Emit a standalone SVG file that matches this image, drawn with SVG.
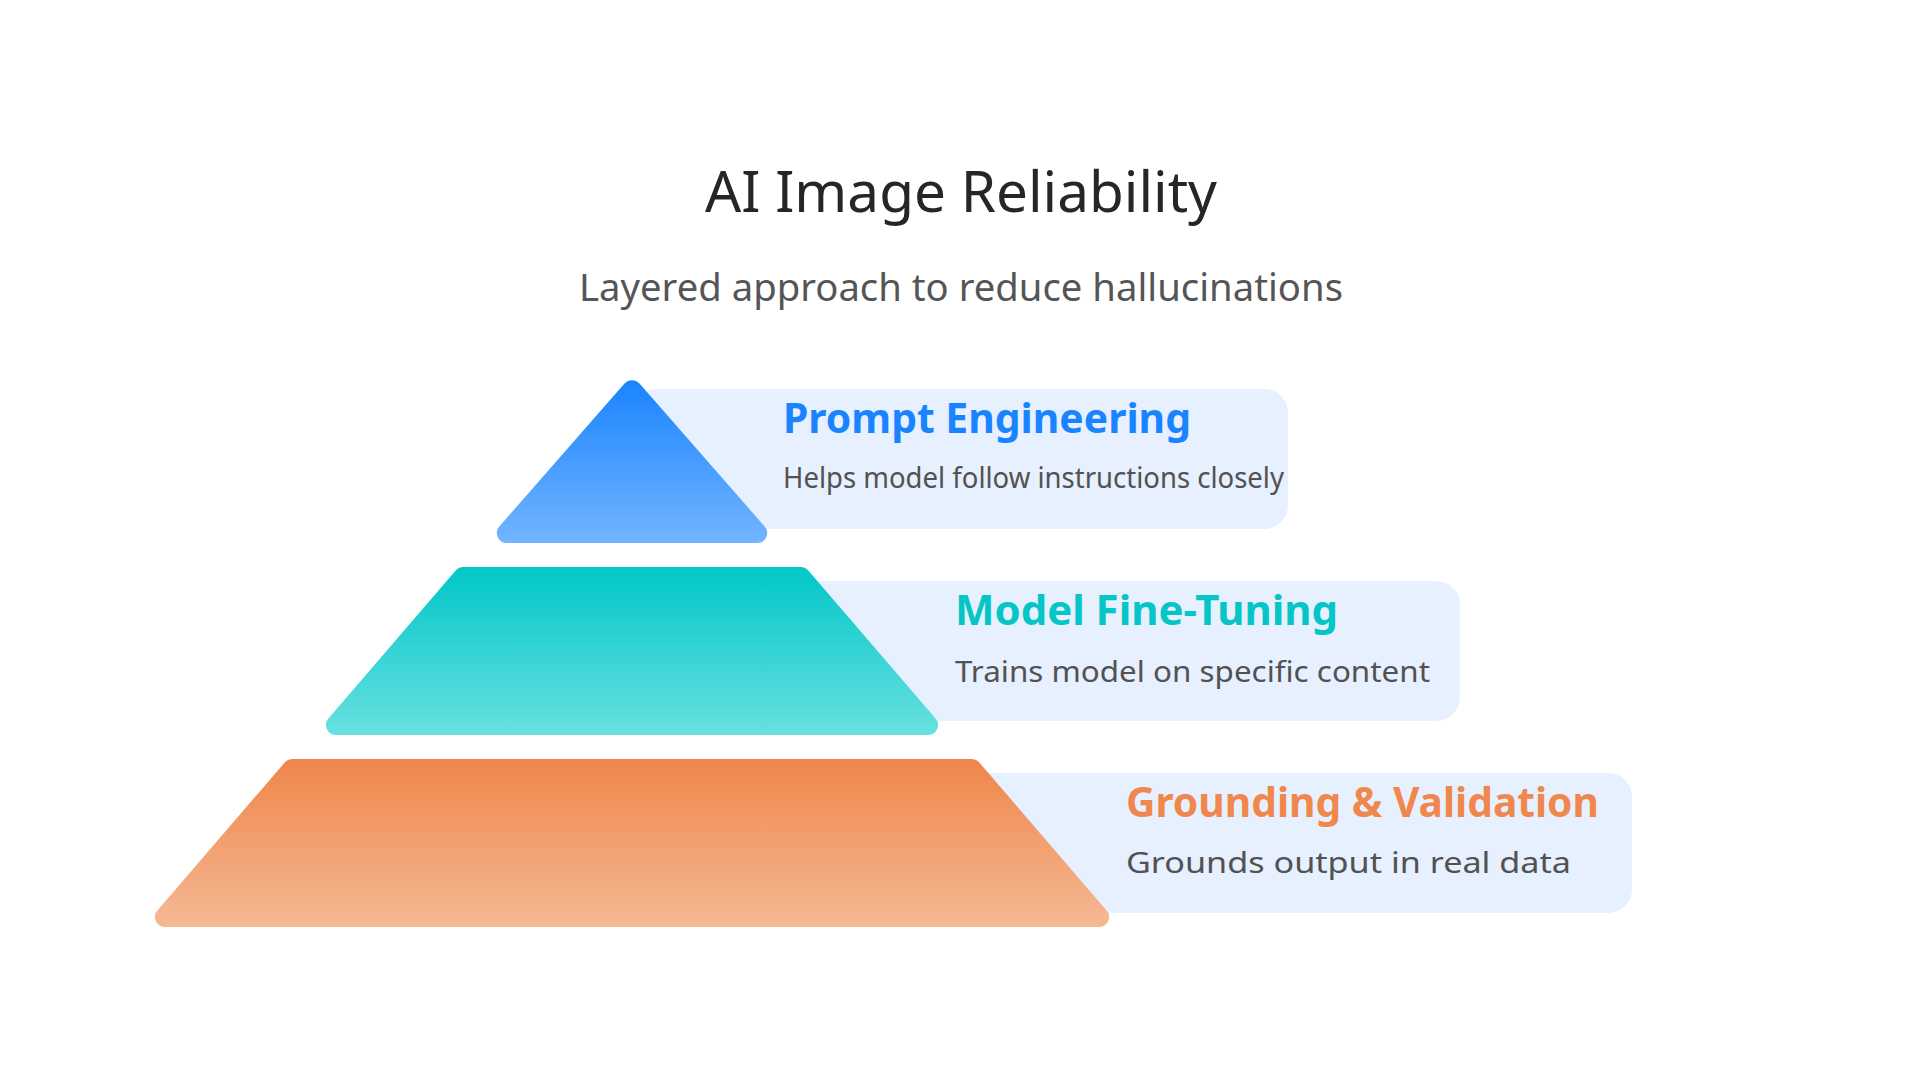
<svg xmlns="http://www.w3.org/2000/svg" width="1920" height="1080" viewBox="0 0 1920 1080">
  <defs>
    <linearGradient id="gBlue" x1="0" y1="0" x2="0" y2="1">
      <stop offset="0" stop-color="#1a84ff"/>
      <stop offset="1" stop-color="#72b4ff"/>
    </linearGradient>
    <linearGradient id="gTeal" x1="0" y1="0" x2="0" y2="1">
      <stop offset="0" stop-color="#02c7c8"/>
      <stop offset="1" stop-color="#68e0e0"/>
    </linearGradient>
    <linearGradient id="gOrange" x1="0" y1="0" x2="0" y2="1">
      <stop offset="0" stop-color="#ee864b"/>
      <stop offset="1" stop-color="#f6b994"/>
    </linearGradient>
    <style>
      .box { fill: #e6f0fe; }
      .head { font-family: "Noto Sans", "Open Sans", sans-serif; font-weight: 700; font-size: 42px; }
      .desc { font-family: "Noto Sans", "Open Sans", sans-serif; font-size: 28.5px; fill: #525252; }
      .title { font-family: "Noto Sans", "Open Sans", sans-serif; font-size: 56px; fill: #262626; }
      .subtitle { font-family: "Noto Sans", "Open Sans", sans-serif; font-size: 39px; fill: #555555; }
    </style>
  </defs>
  <rect width="1920" height="1080" fill="#ffffff"/>

  <g id="header">
    <text class="title" x="961" y="212" text-anchor="middle" textLength="512" lengthAdjust="spacingAndGlyphs">AI Image Reliability</text>
    <text class="subtitle" x="961" y="301" text-anchor="middle" textLength="764" lengthAdjust="spacingAndGlyphs">Layered approach to reduce hallucinations</text>
  </g>

  <g id="connectors"/>

  <g id="layer-prompt-engineering">
    <rect class="box" x="632" y="389" width="656" height="140" rx="24"/>
    <path fill="url(#gBlue)" d="M624.5,383.6 L499.3,526.5 A10,10 0 0 0 506.8,543 L757.2,543 A10,10 0 0 0 764.7,526.5 L639.5,383.6 A10,10 0 0 0 624.5,383.6 Z"/>
    <text class="head" x="783" y="433" fill="#1a84ff" textLength="408" lengthAdjust="spacingAndGlyphs">Prompt Engineering</text>
    <text class="desc" x="783" y="487.5" textLength="501" lengthAdjust="spacingAndGlyphs">Helps model follow instructions closely</text>
  </g>

  <g id="layer-model-fine-tuning">
    <rect class="box" x="632" y="581" width="828" height="140" rx="24"/>
    <path fill="url(#gTeal)" d="M455.7,570.5 L328.4,718.5 A10,10 0 0 0 336,735 L928,735 A10,10 0 0 0 935.6,718.5 L808.3,570.5 A10,10 0 0 0 800.7,567 L463.3,567 A10,10 0 0 0 455.7,570.5 Z"/>
    <text class="head" x="955" y="625" fill="#06c5c6" textLength="383" lengthAdjust="spacingAndGlyphs">Model Fine-Tuning</text>
    <text class="desc" x="955" y="681.5" textLength="475" lengthAdjust="spacingAndGlyphs">Trains model on specific content</text>
  </g>

  <g id="layer-grounding-validation">
    <rect class="box" x="632" y="773" width="1000" height="140" rx="24"/>
    <path fill="url(#gOrange)" d="M284.7,762.5 L157.4,910.5 A10,10 0 0 0 165,927 L1099,927 A10,10 0 0 0 1106.6,910.5 L979.3,762.5 A10,10 0 0 0 971.7,759 L292.3,759 A10,10 0 0 0 284.7,762.5 Z"/>
    <text class="head" x="1126" y="817" fill="#f0884d" textLength="473" lengthAdjust="spacingAndGlyphs">Grounding &amp; Validation</text>
    <text class="desc" x="1126" y="873" textLength="445" lengthAdjust="spacingAndGlyphs">Grounds output in real data</text>
  </g>
</svg>
